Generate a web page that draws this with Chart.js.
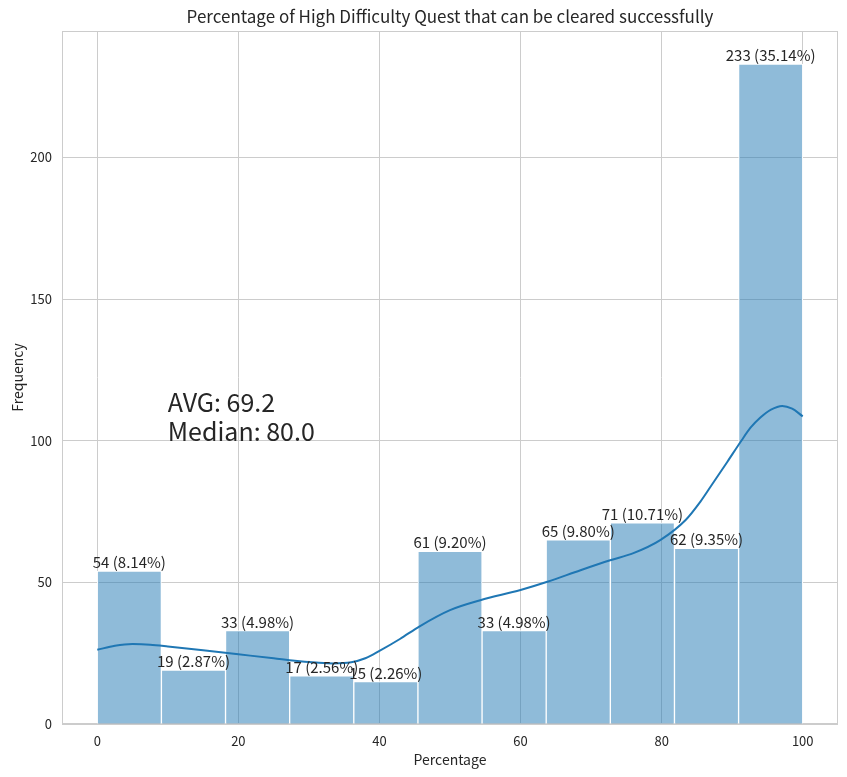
<!DOCTYPE html>
<html>
<head>
<meta charset="utf-8">
<script src="https://cdn.jsdelivr.net/npm/chart.js@4.4.0/dist/chart.umd.min.js"></script>
<style>
    html, body { margin: 0; padding: 0; background: #fff; }
    #wrap { width: 847px; height: 777px; }
</style>
</head>
<body>
<div id="wrap"><canvas id="myChart"></canvas></div>
<script>
// histogram bins (centers of 11 equal bins over 0..100)
const binCenters = [4.545, 13.636, 22.727, 31.818, 40.909, 50.0, 59.091, 68.182, 77.273, 86.364, 95.455]
const counts = [54, 19, 33, 17, 15, 61, 33, 65, 71, 62, 233]

// kde curve
const kdeX = [0, 2.5, 5, 7.5, 10, 15, 20, 25, 28, 31, 33.5, 36, 38, 40, 42.9, 45.7, 50, 54.3, 60, 63.8, 68.5, 72.7, 76, 79.8, 83.4, 85.5, 87, 89.3, 91.3, 92.6, 94, 95.5, 97.1, 98.5, 100]
const kdeY = [26.2, 27.6, 28.2, 28.0, 27.4, 26.0, 24.6, 23.2, 22.3, 21.7, 21.4, 21.8, 23.2, 25.8, 30.0, 34.5, 40.2, 43.7, 47.3, 50.2, 54.3, 57.8, 60.3, 64.9, 72.0, 78.5, 84.0, 92.5, 100.0, 104.6, 108.2, 111.0, 112.3, 111.3, 108.6]

const xTicks = [0, 20, 40, 60, 80, 100]
const yTicks = [0, 50, 100, 150, 200]

const titleText = 'Percentage of High Difficulty Quest that can be cleared successfully'
const avgText = 'AVG: 69.2'
const medianText = 'Median: 80.0'

const total = counts.reduce((a, b) => a + b, 0)
const textColor = '#262626'
const gridColor = '#cccccc'
const fontFamily = '"Noto Sans CJK JP", "Noto Sans", sans-serif'

Chart.defaults.font.family = fontFamily
Chart.defaults.color = textColor

const frameAndText = {
    id: 'frameAndText',
    beforeDatasetsDraw(chart) {
        const {ctx, chartArea} = chart
        ctx.save()
        ctx.strokeStyle = gridColor
        ctx.lineWidth = 1
        ctx.strokeRect(chartArea.left + 0.5, chartArea.top + 0.5, chartArea.width - 1, chartArea.height - 1)
        // title centred over the plot area
        ctx.fillStyle = textColor
        ctx.font = '17px ' + fontFamily
        ctx.textAlign = 'center'
        ctx.textBaseline = 'middle'
        ctx.fillText(titleText, (chartArea.left + chartArea.right) / 2, 17)
        ctx.restore()
    },
    afterDatasetsDraw(chart) {
        const {ctx, scales} = chart
        const meta = chart.getDatasetMeta(1)
        ctx.save()
        ctx.fillStyle = textColor
        ctx.font = '15px ' + fontFamily
        ctx.textAlign = 'center'
        ctx.textBaseline = 'alphabetic'
        meta.data.forEach((bar, i) => {
            const pct = (counts[i] / total * 100).toFixed(2)
            ctx.fillText(counts[i] + ' (' + pct + '%)', bar.x, bar.y - 3)
        })
        // avg / median note, anchored at data (10, 100)
        const tx = scales.x.getPixelForValue(10)
        const ty = scales.y.getPixelForValue(100)
        ctx.font = '25px ' + fontFamily
        ctx.textAlign = 'left'
        ctx.fillText(medianText, tx, ty)
        ctx.fillText(avgText, tx, ty - 29)
        ctx.restore()
    }
}

const ctx = document.getElementById('myChart').getContext('2d')
const myChart = new Chart(ctx, {
    type: 'bar',
    data: {
        datasets: [{
            type: 'line',
            data: kdeX.map((x, i) => ({x: x, y: kdeY[i]})),
            borderColor: '#1f77b4',
            borderWidth: 2,
            pointRadius: 0,
            cubicInterpolationMode: 'monotone',
            fill: false,
            order: 0
        }, {
            type: 'bar',
            data: binCenters.map((x, i) => ({x: x, y: counts[i]})),
            backgroundColor: 'rgba(31, 119, 180, 0.5)',
            borderColor: '#ffffff',
            borderWidth: 1,
            borderSkipped: 'start',
            barPercentage: 1,
            categoryPercentage: 1,
            order: 1
        }]
    },
    options: {
        responsive: true,
        maintainAspectRatio: false,
        animation: false,
        layout: {padding: {left: 0, right: 9, top: 31, bottom: 0}},
        scales: {
            x: {
                type: 'linear',
                offset: false,
                min: -5,
                max: 105,
                afterBuildTicks: (scale) => { scale.ticks = xTicks.map(v => ({value: v})) },
                afterFit: (scale) => { scale.height = 53 },
                grid: {color: gridColor, drawTicks: false, offset: false},
                border: {display: false},
                ticks: {padding: 9, font: {size: 13}, color: textColor},
                title: {display: true, text: 'Percentage', font: {size: 14}, color: textColor, padding: {top: 0, bottom: 9}}
            },
            y: {
                type: 'linear',
                min: 0,
                max: 244.65,
                afterBuildTicks: (scale) => { scale.ticks = yTicks.map(v => ({value: v})) },
                afterFit: (scale) => { scale.width = 62 },
                grid: {color: gridColor, drawTicks: false},
                border: {display: false},
                ticks: {padding: 10, font: {size: 13}, color: textColor},
                title: {display: true, text: 'Frequency', font: {size: 14}, color: textColor, padding: {top: 9, bottom: 0}}
            }
        },
        plugins: {
            legend: {display: false},
            tooltip: {enabled: false},
            title: {display: false}
        }
    },
    plugins: [frameAndText]
})
</script>
</body>
</html>
